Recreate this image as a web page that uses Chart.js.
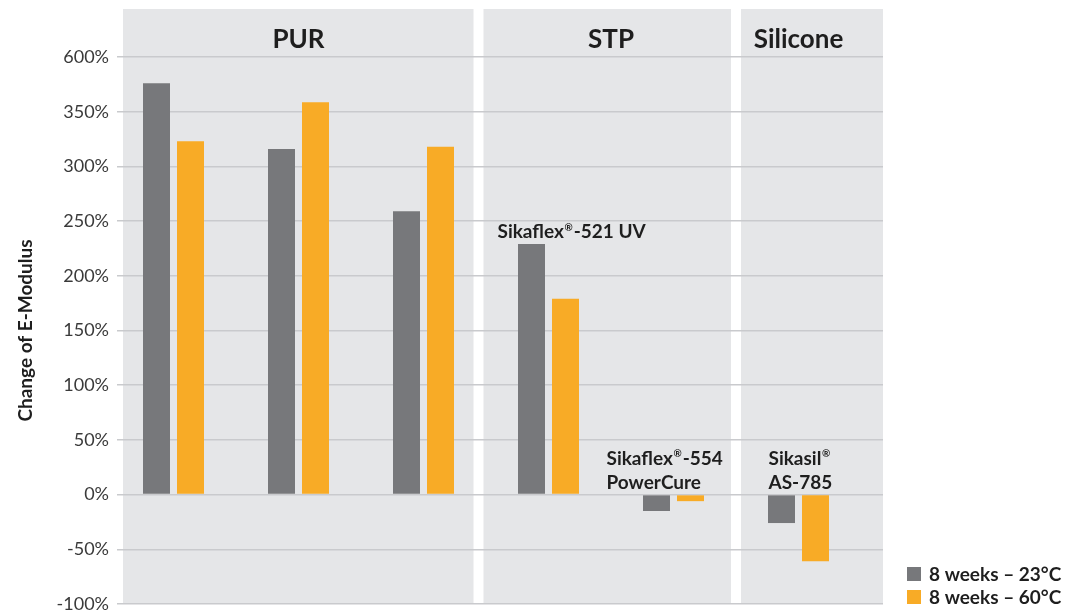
<!DOCTYPE html>
<html>
<head>
<meta charset="utf-8">
<script src="https://cdn.jsdelivr.net/npm/chart.js@4.4.1/dist/chart.umd.min.js"></script>
<style>
html,body{margin:0;padding:0;background:#ffffff;}
#wrap{width:1065px;height:614px;position:relative;}
</style>
</head>
<body>
<div id="wrap"><canvas id="c"></canvas></div>
<script>
// ---- data ----
const categories = ['PUR 1', 'PUR 2', 'PUR 3', 'Sikaflex®-521 UV', 'Sikaflex®-554 PowerCure', 'Sikasil® AS-785'];
const productLabels = ['', '', '', 'Sikaflex®-521 UV', 'Sikaflex®-554\nPowerCure', 'Sikasil®\nAS-785'];
const groupNames = ['PUR', 'STP', 'Silicone'];
const groupMembers = [[0, 1, 2], [3, 4], [5]];
const seriesNames = ['8 weeks – 23°C', '8 weeks – 60°C'];
const weeks8at23C = [480, 316, 259, 229, -15, -26];
const weeks8at60C = [323, 393, 318, 179, -6, -61];
const yTickValues = [-100, -50, 0, 50, 100, 150, 200, 250, 300, 350, 600];
const axisTitle = 'Change of E-Modulus';

// broken axis: above 350% the scale is compressed (350 -> 600 takes one 50% step)
const BREAK = 350, SQUEEZE = 5;
const toAxis = v => v <= BREAK ? v : BREAK + (v - BREAK) / SQUEEZE;
const fromAxis = a => a <= BREAK ? a : BREAK + (a - BREAK) * SQUEEZE;

// ---- style ----
const GRAY = '#77787b', ORANGE = '#f8ab26', PANEL = '#e5e6e8', GRID = '#c9cacd', TEXT = '#1e1e1e';
const panelBreaks = [2.44, 4.5];       // x-scale positions of the white gaps
const labelDx = [0, 0, 0, -51, -67, -30]; // product label offsets from group centre

const toPoints = arr => arr.map((v, i) => ({x: i, y: toAxis(v)}));

function drawRich(ctx, text, x, y, size) {
  const parts = text.split('®');
  let cx = x;
  parts.forEach((p, i) => {
    ctx.font = 'bold ' + size + 'px Lato';
    ctx.fillText(p, cx, y);
    cx += ctx.measureText(p).width;
    if (i < parts.length - 1) {
      ctx.font = 'bold ' + Math.round(size * 0.55) + 'px Lato';
      ctx.fillText('®', cx + 0.5, y - size * 0.38);
      cx += ctx.measureText('®').width + 1.5;
    }
  });
}

const decor = {
  id: 'decor',
  beforeDraw(chart) {
    const {ctx, chartArea: a, scales: {x}} = chart;
    ctx.save();
    ctx.fillStyle = PANEL;
    const edges = [a.left, ...panelBreaks.map(b => x.getPixelForValue(b)), a.right];
    for (let i = 0; i < groupNames.length; i++) {
      const l = i === 0 ? edges[0] : edges[i] + 5;
      const r = i === groupNames.length - 1 ? edges[i + 1] : edges[i + 1] - 5;
      ctx.fillRect(l, 9, r - l, a.bottom - 9);
    }
    ctx.fillStyle = TEXT;
    ctx.font = 'bold 26px Lato';
    ctx.textAlign = 'center';
    ctx.textBaseline = 'alphabetic';
    groupNames.forEach((g, i) => {
      const m = groupMembers[i];
      const cx = m.reduce((s, k) => s + x.getPixelForValue(k), 0) / m.length;
      ctx.fillText(g, cx, 48);
    });
    ctx.restore();
  },
  afterDatasetsDraw(chart) {
    const {ctx, scales: {x, y}} = chart;
    ctx.save();
    ctx.fillStyle = TEXT;
    ctx.textAlign = 'left';
    ctx.textBaseline = 'alphabetic';
    productLabels.forEach((lab, i) => {
      if (!lab) return;
      const top = Math.max(0, toAxis(weeks8at23C[i]), toAxis(weeks8at60C[i]));
      const lines = lab.split('\n');
      const base = y.getPixelForValue(top) - 6;
      const left = x.getPixelForValue(i) + labelDx[i];
      lines.forEach((ln, k) => {
        drawRich(ctx, ln, left, base - (lines.length - 1 - k) * 24, 19);
      });
    });
    ctx.restore();
  },
  afterDraw(chart) {
    const {ctx, chartArea: a} = chart;
    ctx.save();
    const cols = [GRAY, ORANGE];
    ctx.font = 'bold 19px Lato';
    ctx.textAlign = 'left';
    ctx.textBaseline = 'middle';
    seriesNames.forEach((s, i) => {
      const top = a.bottom - 14 - (seriesNames.length - 1 - i) * 23;
      ctx.fillStyle = cols[i];
      ctx.fillRect(a.right + 24, top, 14, 14);
      ctx.fillStyle = TEXT;
      ctx.fillText(s, a.right + 46, top + 7.5);
    });
    ctx.restore();
  }
};

Chart.defaults.font.family = 'Lato';

new Chart(document.getElementById('c'), {
  type: 'bar',
  data: {
    labels: categories,
    datasets: [
      {label: seriesNames[0], data: toPoints(weeks8at23C), backgroundColor: GRAY, categoryPercentage: 0.544, barPercentage: 0.794},
      {label: seriesNames[1], data: toPoints(weeks8at60C), backgroundColor: ORANGE, categoryPercentage: 0.544, barPercentage: 0.794}
    ]
  },
  options: {
    responsive: true,
    maintainAspectRatio: false,
    animation: false,
    events: [],
    layout: {padding: {top: 57, right: 182, bottom: 10, left: 0}},
    plugins: {legend: {display: false}, tooltip: {enabled: false}},
    scales: {
      x: {
        type: 'linear',
        display: false,
        bounds: 'data',
        offset: false,
        min: -0.404,
        max: 5.676,
        afterBuildTicks: s => { s.ticks = categories.map((c, i) => ({value: i})); },
        grid: {display: false}
      },
      y: {
        min: -100,
        max: 400,
        afterBuildTicks: s => { s.ticks = yTickValues.map(v => ({value: toAxis(v)})); },
        afterFit: s => { s.width = 123; s.paddingTop = 0; s.paddingBottom = 0; },
        ticks: {
          callback: v => Math.round(fromAxis(v)) + '%',
          color: '#3a3a3a',
          padding: 8,
          font: {family: 'Lato', size: 18}
        },
        grid: {color: GRID, lineWidth: 1.5, tickLength: 6, drawTicks: true},
        border: {display: false},
        title: {
          display: true,
          text: axisTitle,
          color: TEXT,
          font: {family: 'Lato', size: 19, weight: 'bold'},
          padding: {top: 14, bottom: 0}
        }
      }
    }
  },
  plugins: [decor]
});
</script>
</body>
</html>
